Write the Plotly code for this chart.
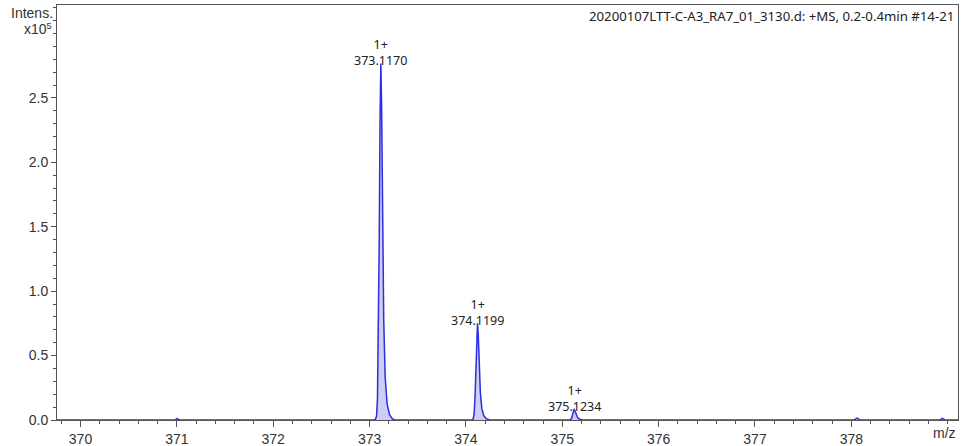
import plotly.graph_objects as go

# Profile spectrum (m/z, intensity in units of 1e5)
mz = [369.756, 370.98, 371.00, 371.03,
      373.057, 373.072, 373.082, 373.092, 373.100, 373.109, 373.117, 373.125,
      373.137, 373.147, 373.162, 373.182, 373.207, 373.237, 373.267,
      374.060, 374.075, 374.085, 374.095, 374.103, 374.112, 374.120, 374.128,
      374.140, 374.150, 374.165, 374.185, 374.210, 374.240, 374.270,
      375.075, 375.095, 375.105, 375.115, 375.123, 375.132, 375.145, 375.160,
      375.180, 375.210,
      378.03, 378.06, 378.09,
      378.92, 378.945, 378.97, 379.107]
intens = [0, 0, 0.01, 0,
          0, 0.028, 0.166, 0.692, 1.384, 2.352, 2.767, 2.435,
          1.384, 0.775, 0.332, 0.125, 0.042, 0.008, 0,
          0, 0.0075, 0.045, 0.19, 0.375, 0.64, 0.75, 0.66,
          0.375, 0.21, 0.09, 0.034, 0.011, 0.002, 0,
          0, 0.01, 0.04, 0.072, 0.085, 0.07, 0.04, 0.018,
          0.006, 0,
          0, 0.014, 0,
          0, 0.012, 0, 0]

peak_mz = [373.117, 374.1199, 375.1234]
peak_int = [2.767, 0.75, 0.085]
peak_labels = ["1+<br>373.1170", "1+<br>374.1199", "1+<br>375.1234"]

x_ticks = [370, 371, 372, 373, 374, 375, 376, 377, 378]
y_ticks = [0.0, 0.5, 1.0, 1.5, 2.0, 2.5]
title_text = "20200107LTT-C-A3_RA7_01_3130.d: +MS, 0.2-0.4min #14-21"

fig = go.Figure()
fig.add_trace(go.Scatter(
    x=mz, y=intens, mode="lines",
    line=dict(color="rgb(45,45,225)", width=1.5),
    fill="tozeroy", fillcolor="rgba(190,190,240,0.75)",
    hoverinfo="skip", cliponaxis=False))

for px, py, lab in zip(peak_mz, peak_int, peak_labels):
    fig.add_annotation(x=px, y=py, text=lab, showarrow=False,
                       xanchor="center", yanchor="bottom", yshift=-8,
                       font=dict(family="Noto Sans", size=12.5, color="#222"))

fig.add_annotation(xref="paper", yref="paper", x=0.9975, y=1, text=title_text,
                   showarrow=False, xanchor="right", yanchor="top", yshift=0,
                   font=dict(family="Noto Sans", size=13.2, color="#222"))
fig.add_annotation(xref="paper", yref="paper", x=0, y=1, text="Intens.",
                   showarrow=False, xanchor="right", yanchor="middle", xshift=-2, yshift=-8,
                   font=dict(family="Liberation Sans", size=14, color="#333"))
fig.add_annotation(xref="paper", yref="paper", x=0, y=1,
                   text="x10<span style='font-size:13px'><sup>5</sup></span>",
                   showarrow=False, xanchor="right", yanchor="middle", xshift=-3, yshift=-24,
                   font=dict(family="Liberation Sans", size=14, color="#333"))
fig.add_annotation(xref="paper", yref="paper", x=0.985, y=0, text="m/z",
                   showarrow=False, xanchor="center", yanchor="top", yshift=-3,
                   font=dict(family="Liberation Sans", size=14, color="#333"))

fig.update_layout(
    width=963, height=446,
    margin=dict(l=57, r=5, t=5, b=26),
    plot_bgcolor="white", paper_bgcolor="white",
    showlegend=False,
    font=dict(family="Liberation Sans", size=14, color="#333"),
    xaxis=dict(range=[369.756, 379.107], tickvals=x_ticks,
               ticktext=[str(v) for v in x_ticks], automargin=False,
               showgrid=False, zeroline=False,
               showline=True, linecolor="#555", linewidth=1, mirror=True,
               ticks="outside", ticklen=6, tickcolor="#555",
               minor=dict(dtick=0.2, ticks="outside", ticklen=3, tickcolor="#555", showgrid=False)),
    yaxis=dict(range=[0, 3.221], tickvals=y_ticks,
               ticktext=["%.1f" % v for v in y_ticks], automargin=False,
               showgrid=False, zeroline=False,
               showline=True, linecolor="#555", linewidth=1, mirror=True,
               ticks="outside", ticklen=5, tickcolor="#555",
               minor=dict(dtick=0.1, ticks="outside", ticklen=3, tickcolor="#555", showgrid=False)),
)

fig.write_html("out.html")
